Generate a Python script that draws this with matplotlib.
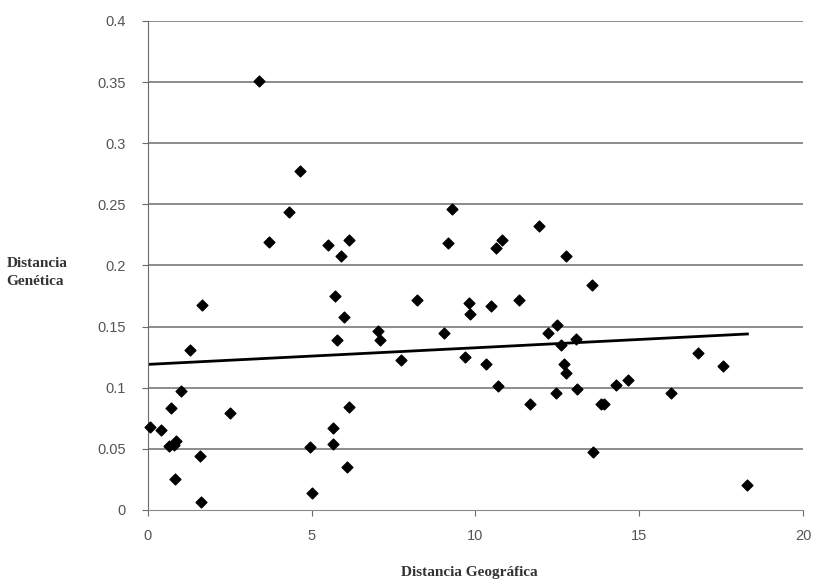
import matplotlib.pyplot as plt
import numpy as np

# distancia geografica (x) vs distancia genetica (y)
geo_dist = [0.08, 0.39, 0.71, 1.00, 0.66, 0.80, 0.85, 0.84, 1.60, 1.61,
            1.29, 1.64, 2.50, 3.39, 3.70, 4.32, 4.65, 4.95, 5.00, 5.50,
            5.89, 6.13, 5.71, 5.99, 5.77, 5.66, 5.66, 6.13, 6.09, 7.03,
            7.07, 7.73, 8.22, 9.05, 9.15, 9.29, 9.68, 9.79, 9.82, 10.33,
            10.48, 10.63, 10.81, 10.68, 11.32, 11.65, 11.93, 12.21, 12.50, 12.47,
            12.62, 12.70, 12.75, 12.77, 13.08, 13.10, 13.57, 13.59, 13.82, 13.92,
            14.30, 14.64, 15.98, 16.78, 17.54, 18.30]
gen_dist = [0.068, 0.065, 0.083, 0.097, 0.052, 0.053, 0.056, 0.025, 0.044, 0.006,
            0.131, 0.168, 0.079, 0.351, 0.219, 0.244, 0.277, 0.051, 0.014, 0.217,
            0.208, 0.221, 0.175, 0.158, 0.139, 0.067, 0.054, 0.084, 0.035, 0.146,
            0.139, 0.123, 0.172, 0.145, 0.218, 0.246, 0.125, 0.169, 0.160, 0.119,
            0.167, 0.214, 0.221, 0.101, 0.172, 0.087, 0.232, 0.145, 0.151, 0.096,
            0.135, 0.119, 0.112, 0.208, 0.140, 0.099, 0.184, 0.047, 0.087, 0.087,
            0.102, 0.106, 0.096, 0.128, 0.118, 0.020]

# linea de tendencia
trend_intercept = 0.119
trend_slope = 0.00136

x_ticks = [0, 5, 10, 15, 20]
y_ticks = [0, 0.05, 0.1, 0.15, 0.2, 0.25, 0.3, 0.35, 0.4]
y_tick_labels = ["0", "0.05", "0.1", "0.15", "0.2", "0.25", "0.3", "0.35", "0.4"]

fig = plt.figure(figsize=(8.17, 5.82), dpi=100)
ax = fig.add_axes([0.181, 0.124, 0.802, 0.840])

for y in y_ticks[1:]:
    ax.axhline(y, color="#6e6e6e", lw=1.1, zorder=1)

ax.scatter(geo_dist, gen_dist, marker="D", s=30, color="black", zorder=3,
           clip_on=False)

xt = np.array([0, max(geo_dist)])
ax.plot(xt, trend_intercept + trend_slope * xt, color="black", lw=2.0, zorder=2)

ax.set_xlim(0, 20)
ax.set_ylim(0, 0.4)
ax.set_xticks(x_ticks)
ax.set_yticks(y_ticks)
ax.set_yticklabels(y_tick_labels)

for side in ["top", "right"]:
    ax.spines[side].set_visible(False)
ax.spines["left"].set_color("#6a6a6a")
ax.spines["bottom"].set_color("#8a8a8a")
ax.tick_params(axis="both", labelsize=10.5, colors="#6a6a6a", labelcolor="#555555",
               length=4, direction="out")
for lab in ax.get_xticklabels() + ax.get_yticklabels():
    lab.set_fontfamily("Liberation Sans")
ax.tick_params(axis="y", pad=12)
ax.tick_params(axis="x", pad=10)

fig.text(0.008, 0.532, "Distancia\nGenética", ha="left", va="center",
         fontsize=11, fontweight="bold", family="Liberation Serif",
         color="#333333", linespacing=1.45)
fig.text(0.575, 0.016, "Distancia Geográfica", ha="center", va="center",
         fontsize=11, fontweight="bold", family="Liberation Serif",
         color="#333333")

fig.savefig("out.png", dpi=100)
